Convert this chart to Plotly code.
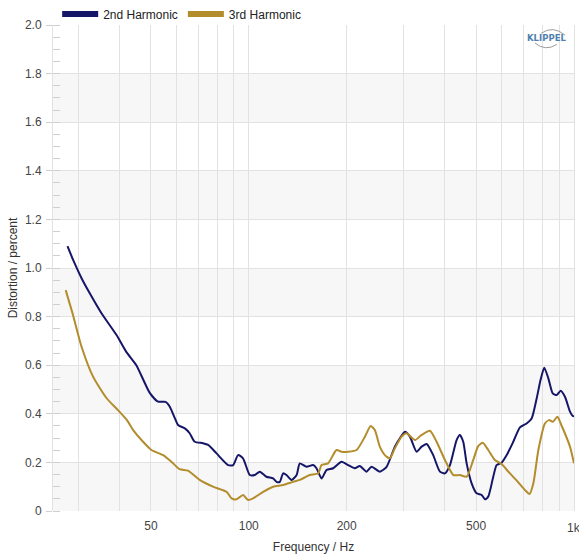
import plotly.graph_objects as go

# Harmonic distortion measurement, values in percent
freq_h2 = [27.7, 28.9, 30.6, 32.4, 35.2, 39.2, 42.0, 45.1, 49.6, 52.6, 55.5, 57.1, 59.2,
           60.6, 63.6, 65.8, 68.2, 72.3, 75.0, 79.6, 86.4, 89.5, 92.7, 96.0, 100.7, 104.3,
           108.1, 113.3, 118.8, 121.7, 124.6, 127.5, 130.6, 135.3, 140.3, 143.5, 150.5,
           157.7, 161.5, 167.4, 173.4, 181.7, 192.8, 202.1, 211.8, 219.5, 230.2, 238.5,
           252.9, 265.3, 281.3, 291.5, 302.0, 312.9, 328.1, 340.0, 352.3, 369.0, 387.0,
           401.0, 415.5, 435.5, 445.7, 456.4, 467.6, 484.4, 501.8, 520.0, 532.5, 544.8,
           564.6, 578.0, 599.0, 621.0, 650.6, 682.0, 715.0, 741.0, 768.0, 789.0, 810.0,
           834.0, 860.0, 885.0, 910.0, 938.0, 972.0, 991.0, 1000.0]
dist_h2 = [1.09, 1.03, 0.958, 0.897, 0.815, 0.724, 0.655, 0.60, 0.486, 0.45, 0.449, 0.43, 0.383,
           0.354, 0.34, 0.32, 0.285, 0.279, 0.272, 0.237, 0.189, 0.189, 0.23, 0.217, 0.148, 0.148,
           0.162, 0.141, 0.134, 0.12, 0.12, 0.155, 0.148, 0.128, 0.148, 0.196, 0.182,
           0.189, 0.176, 0.134, 0.169, 0.176, 0.203, 0.189, 0.176, 0.185, 0.162, 0.182,
           0.162, 0.182, 0.265, 0.299, 0.326, 0.306, 0.244, 0.265, 0.276, 0.23, 0.162,
           0.155, 0.189, 0.292, 0.313, 0.285, 0.196, 0.114, 0.073, 0.066, 0.048, 0.059,
           0.141, 0.189, 0.199, 0.23, 0.285, 0.344, 0.36, 0.381, 0.464, 0.539, 0.59,
           0.546, 0.484, 0.477, 0.495, 0.47, 0.409, 0.391, 0.39]

freq_h3 = [27.35, 28.8, 30.6, 33.2, 36.5, 39.6, 42.2, 44.1, 47.3, 50.2, 54.5, 57.8, 61.3,
           65.0, 70.6, 77.6, 85.4, 88.5, 91.7, 96.0, 99.5, 103.1, 110.7, 118.8, 127.5,
           136.9, 143.5, 154.0, 163.5, 167.4, 175.3, 186.0, 192.8, 202.1, 214.5, 227.6,
           237.0, 244.1, 252.9, 262.1, 271.5, 281.3, 295.0, 305.6, 324.5, 340.0, 360.6,
           378.0, 401.0, 425.6, 445.7, 467.6, 490.0, 507.5, 524.0, 545.0, 571.0, 599.0,
           628.0, 664.0, 707.0, 730.0, 750.0, 777.0, 814.0, 838.0, 861.0, 889.0, 914.0,
           972.0, 1000.0]
dist_h3 = [0.909, 0.807, 0.676, 0.553, 0.465, 0.415, 0.374, 0.333, 0.285, 0.251, 0.23, 0.203, 0.172,
           0.166, 0.128, 0.10, 0.079, 0.052, 0.048, 0.066, 0.045, 0.052, 0.079, 0.10, 0.107,
           0.12, 0.128, 0.148, 0.155, 0.189, 0.196, 0.251, 0.244, 0.244, 0.251, 0.306,
           0.35, 0.333, 0.265, 0.23, 0.217, 0.258, 0.306, 0.32, 0.292, 0.313, 0.33,
           0.285, 0.21, 0.148, 0.148, 0.141, 0.21, 0.267, 0.281, 0.251, 0.21, 0.193,
           0.162, 0.128, 0.086, 0.07, 0.114, 0.251, 0.36, 0.374, 0.367, 0.388, 0.354,
           0.265, 0.196]

series_names = ["2nd Harmonic", "3rd Harmonic"]
x_grid = [30, 40, 50, 60, 70, 80, 90, 100, 200, 300, 400, 500, 600, 700, 800, 900, 1000]
x_labels = {50: "50", 100: "100", 200: "200", 500: "500", 1000: "1k"}
y_ticks = [0, 0.2, 0.4, 0.6, 0.8, 1.0, 1.2, 1.4, 1.6, 1.8, 2.0]

NAVY = "#161668"
GOLD = "#b38c2c"
FONT = "Liberation Sans, Arial, sans-serif"

fig = go.Figure()

for name, fx, fy, col in [(series_names[0], freq_h2, dist_h2, NAVY),
                          (series_names[1], freq_h3, dist_h3, GOLD)]:
    fig.add_trace(go.Scatter(x=fx, y=fy, mode="lines", name=name, showlegend=False,
                             line=dict(color=col, width=2, shape="spline", smoothing=0.6),
                             hoverinfo="skip"))
    # thicker swatch for the legend
    fig.add_trace(go.Scatter(x=[None], y=[None], mode="lines", name=name,
                             line=dict(color=col, width=6)))

# alternating shaded bands between major y ticks
for lo, hi in zip(y_ticks[0::2], y_ticks[1::2]):
    if lo in (0, 0.4, 0.8, 1.2, 1.6):
        fig.add_shape(type="rect", xref="paper", yref="y", x0=0, x1=1, y0=lo, y1=hi,
                      fillcolor="#f7f7f7", line_width=0, layer="below")

# KLIPPEL mark in the upper right corner
fig.add_annotation(text="<b>KLIPPEL</b>", xref="paper", yref="paper", x=0.9885, y=0.974,
                   xanchor="right", yanchor="middle", showarrow=False,
                   font=dict(family="DejaVu Sans, sans-serif", size=8.5, color="#4f7fae"))
fig.add_shape(type="path", xref="paper", yref="paper",
              path="M 0.937,0.983 Q 0.96,1.0 0.983,0.979",
              line=dict(color="#9a9a9a", width=1))
fig.add_shape(type="path", xref="paper", yref="paper",
              path="M 0.925,0.963 Q 0.945,0.945 0.967,0.960",
              line=dict(color="#9a9a9a", width=1))

# last frequency label sits on the right edge of the plot
fig.add_annotation(text=x_labels[1000], xref="x", yref="paper", x=3.0, y=0,
                   yshift=-8, xanchor="center", yanchor="top", showarrow=False,
                   font=dict(family=FONT, size=12, color="#444"))

fig.update_layout(
    width=579, height=556,
    margin=dict(l=53, r=5, t=25, b=45, autoexpand=False),
    paper_bgcolor="white", plot_bgcolor="white",
    font=dict(family=FONT, size=12, color="#333"),
    legend=dict(orientation="h", x=0.008, y=0.993, xanchor="left", yanchor="bottom",
                font=dict(size=12, color="#222"), itemwidth=36,
                bgcolor="rgba(0,0,0,0)", traceorder="normal"),
    xaxis=dict(type="log", range=[1.39794, 3.0], tickvals=x_grid,
               ticktext=[x_labels.get(v, "") if v != 1000 else "" for v in x_grid],
               showgrid=True, gridcolor="#e2e2e2", gridwidth=1, zeroline=False,
               showline=False, ticks="", ticklabelstandoff=6,
               tickfont=dict(size=12, color="#444"),
               title=dict(text="Frequency / Hz", font=dict(size=12, color="#333"), standoff=10)),
    yaxis=dict(range=[0, 2.0], tickvals=y_ticks,
               ticktext=["0"] + [f"{v:.1f}" for v in y_ticks[1:]],
               showgrid=True, gridcolor="#e2e2e2", gridwidth=1, zeroline=False,
               showline=True, linecolor="#e2e2e2", mirror=True,
               ticks="outside", ticklen=6, tickcolor="#cfcfcf", ticklabelstandoff=2,
               tickfont=dict(size=12, color="#444"),
               minor=dict(dtick=0.05, ticks="inside", ticklen=7, tickcolor="#cfcfcf",
                          showgrid=False),
               title=dict(text="Distortion / percent", font=dict(size=12, color="#333"), standoff=4)),
)

fig.write_html("out.html")
